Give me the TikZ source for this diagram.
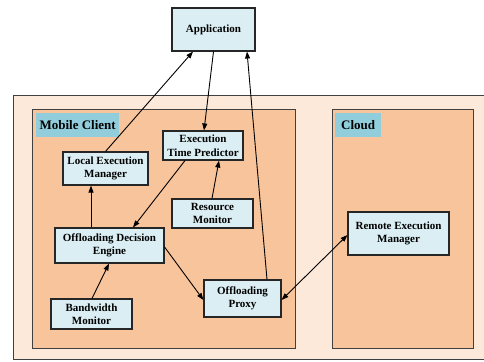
\documentclass[tikz,border=0pt]{standalone}
\usepackage{fontspec}
\setmainfont{Liberation Serif}
\usetikzlibrary{arrows.meta}
\definecolor{outerc}{HTML}{FCE9DA}
\definecolor{innerc}{HTML}{F8C49C}
\definecolor{nodec}{HTML}{DAEEF3}
\definecolor{labc}{HTML}{92CDDC}
\tikzset{
  comp/.style={draw=black!85, line width=1.1pt, fill=nodec, align=center, inner sep=1pt,
    font=\bfseries\fontsize{11}{13.5}\selectfont},
  cont/.style={draw=black!75, line width=1pt},
  lab/.style={fill=labc, inner xsep=1pt, inner ysep=0pt, anchor=north west,
    font=\bfseries\fontsize{13}{15}\selectfont},
  arr/.style={line width=0.9pt, -{Triangle[length=7pt,width=5pt]}},
  darr/.style={line width=0.9pt, {Triangle[length=7pt,width=5pt]}-{Triangle[length=7pt,width=5pt]}}
}
\begin{document}
\begin{tikzpicture}[x=1pt,y=-1pt]
\useasboundingbox (0,0) rectangle (484,361);
% containers
\path[cont, fill=outerc] (13,95) rectangle (492,359);
\path[cont, fill=innerc] (32,109) rectangle (295,348);
\path[cont, fill=innerc] (332,109) rectangle (473,348);
\node[lab, minimum height=24pt, minimum width=83pt] (mlab) at (36,113) {Mobile Client};
\node[lab, minimum height=24pt, minimum width=46pt] (clab) at (335,113) {Cloud};
% components
\node[comp, minimum width=83pt, minimum height=43pt] (app) at (213.5,29.5) {Application};
\node[comp, minimum width=85pt, minimum height=33pt] (lem) at (105.5,168.5) {Local Execution\\Manager};
\node[comp, minimum width=80pt, minimum height=29pt] (etp) at (203,145.5) {Execution\\Time Predictor};
\node[comp, minimum width=81pt, minimum height=29pt] (rm) at (212.5,213.5) {Resource\\Monitor};
\node[comp, minimum width=109pt, minimum height=35pt] (ode) at (109.5,245.5) {Offloading Decision\\Engine};
\node[comp, minimum width=81pt, minimum height=30pt] (bm) at (91.5,314) {Bandwidth\\Monitor};
\node[comp, minimum width=77pt, minimum height=37pt] (op) at (242.5,298.5) {Offloading\\Proxy};
\node[comp, minimum width=101pt, minimum height=43pt] (rem) at (398.5,233.5) {Remote Execution\\Manager};
% connectors
\draw[arr] (lem.north) -- ([xshift=-20.5pt]app.south);
\draw[arr] (app.south) -- ([xshift=1pt]etp.north);
\draw[arr] ([xshift=24.5pt]op.north) -- ([xshift=33.5pt]app.south);
\draw[arr] ([xshift=-18pt]etp.south) -- ([xshift=23.5pt]ode.north);
\draw[arr] ([xshift=-0.5pt]rm.north) -- ([xshift=16pt]etp.south);
\draw[arr] ([xshift=-18.5pt]ode.north) -- ([xshift=-14.5pt]lem.south);
\draw[arr] ([xshift=0.5pt]bm.north) -- ([xshift=-0.5pt]ode.south);
\draw[arr] ([yshift=-1.5pt]ode.east) -- ([yshift=-1.5pt]op.west);
\draw[darr] ([yshift=-1.5pt]op.east) -- ([yshift=-1.5pt]rem.west);
\end{tikzpicture}
\end{document}
